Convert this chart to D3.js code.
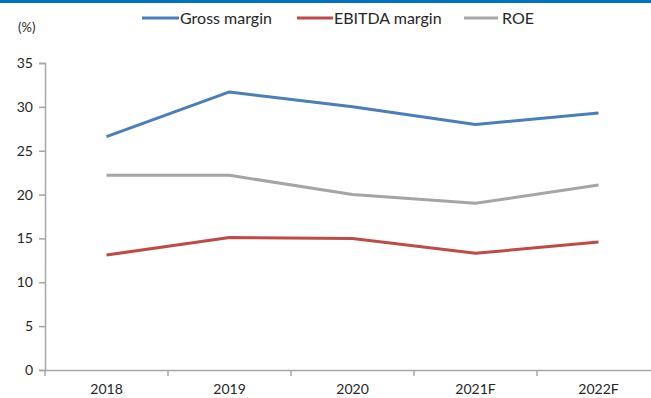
<!DOCTYPE html>
<html>
<head>
<meta charset="utf-8">
<script src="https://cdn.jsdelivr.net/npm/d3@7"></script>
<style>
  html, body { margin: 0; padding: 0; background: #fff; }
  svg { display: block; font-family: Lato, "Open Sans", sans-serif; }
</style>
</head>
<body>
<svg id="chart" width="651" height="398"></svg>
<script>
// Margin ratios by year (%)
const years = ["2018", "2019", "2020", "2021F", "2022F"];
const grossMargin = [26.6, 31.7, 30.0, 28.0, 29.3];
const ebitdaMargin = [13.1, 15.1, 15.0, 13.3, 14.6];
const roe = [22.2, 22.2, 20.0, 19.0, 21.1];
const yTicks = [0, 5, 10, 15, 20, 25, 30, 35];
const seriesNames = ["Gross margin", "EBITDA margin", "ROE"];
const seriesColors = ["#4a7ebb", "#be4b48", "#a5a5a5"];

const series = [grossMargin, ebitdaMargin, roe].map((vals, i) => ({
  name: seriesNames[i], color: seriesColors[i], values: vals
}));

const svg = d3.select("#chart");
const W = 651, H = 398;

// top rule
svg.append("rect").attr("x", 0).attr("y", 0).attr("width", W).attr("height", 3).attr("fill", "#0070c0");

const x = d3.scaleBand().domain(years).range([45, 660]);
const y = d3.scaleLinear().domain([0, 35]).range([370, 63]);

const axisColor = "#a6a6a6";
const textColor = "#262626";

// y axis
const yAxis = svg.append("g").attr("transform", "translate(45,0)")
  .call(d3.axisLeft(y).tickValues(yTicks).tickSize(6).tickPadding(6).tickFormat(d3.format("d")));
yAxis.select(".domain").attr("stroke", axisColor).attr("stroke-width", 1.5);
yAxis.selectAll(".tick line").attr("stroke", axisColor).attr("stroke-width", 1.5);
yAxis.selectAll(".tick text").attr("fill", textColor).style("font-size", "14px").style("font-family", "Lato, sans-serif");

// x axis with tick marks at band boundaries
const xAxis = svg.append("g").attr("transform", "translate(0,370)")
  .call(d3.axisBottom(x).tickSize(0).tickPadding(14));
xAxis.select(".domain").attr("stroke", axisColor).attr("stroke-width", 1.5);
xAxis.selectAll(".tick text").attr("fill", textColor).style("font-size", "14px").style("font-family", "Lato, sans-serif");
svg.append("g").selectAll("line")
  .data(years)
  .join("line")
  .attr("x1", d => x(d)).attr("x2", d => x(d))
  .attr("y1", 370).attr("y2", 376)
  .attr("stroke", axisColor).attr("stroke-width", 1.5);

// unit label
svg.append("text").attr("x", 18).attr("y", 32).text("(%)")
  .attr("fill", textColor).style("font-size", "13px");

// series lines
const line = d3.line()
  .x((d, i) => x(years[i]) + x.bandwidth() / 2)
  .y(d => y(d));

svg.append("g").selectAll("path")
  .data(series)
  .join("path")
  .attr("d", s => line(s.values))
  .attr("fill", "none")
  .attr("stroke", s => s.color)
  .attr("stroke-width", 3)
  .attr("stroke-linejoin", "round");

// legend
const legendX = [142, 297, 464];
const legendLen = [37, 36, 34];
const lg = svg.append("g").selectAll("g")
  .data(series)
  .join("g")
  .attr("transform", (d, i) => `translate(${legendX[i]},18)`);
lg.append("line").attr("x1", 0).attr("x2", (d, i) => legendLen[i])
  .attr("stroke", d => d.color).attr("stroke-width", 3);
lg.append("text").attr("x", (d, i) => legendLen[i] + (i === 2 ? 4 : 1)).attr("dy", "0.35em")
  .text(d => d.name).attr("fill", textColor).style("font-size", "16px");
</script>
</body>
</html>
